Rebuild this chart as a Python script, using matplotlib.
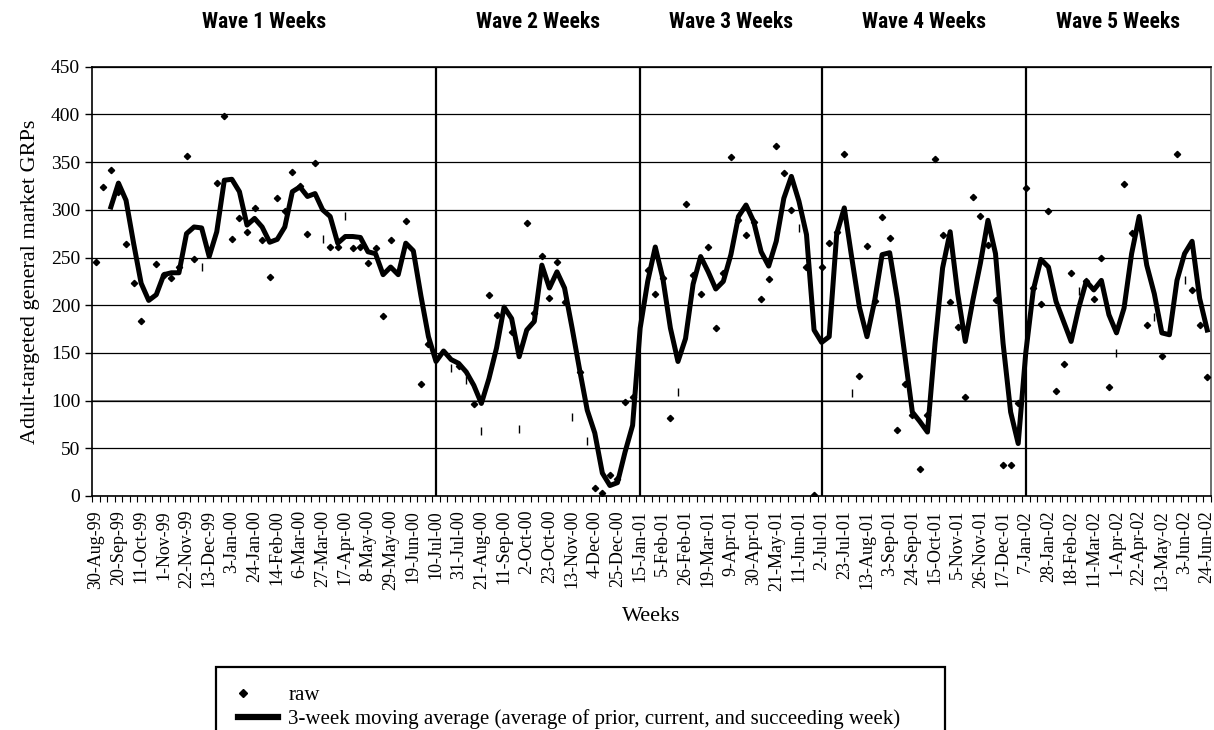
import numpy as np
import matplotlib.pyplot as plt
from matplotlib.patches import Rectangle
from matplotlib.lines import Line2D
from matplotlib.legend_handler import HandlerLine2D
from matplotlib import transforms

# ---------- fontes ----------
serif = "Liberation Serif"
fonte_ondas = {"family": ["Liberation Sans Narrow", "Roboto Condensed", "Arial Narrow", "Liberation Sans"],
               "size": 15.5, "weight": "bold", "stretch": "condensed"}

# ---------- dados ----------
# rótulos do eixo x (uma a cada 3 semanas)
rotulos = ['30-Aug-99', '20-Sep-99', '11-Oct-99', '1-Nov-99', '22-Nov-99', '13-Dec-99',
           '3-Jan-00', '24-Jan-00', '14-Feb-00', '6-Mar-00', '27-Mar-00', '17-Apr-00',
           '8-May-00', '29-May-00', '19-Jun-00', '10-Jul-00', '31-Jul-00', '21-Aug-00',
           '11-Sep-00', '2-Oct-00', '23-Oct-00', '13-Nov-00', '4-Dec-00', '25-Dec-00',
           '15-Jan-01', '5-Feb-01', '26-Feb-01', '19-Mar-01', '9-Apr-01', '30-Apr-01',
           '21-May-01', '11-Jun-01', '2-Jul-01', '23-Jul-01', '13-Aug-01', '3-Sep-01',
           '24-Sep-01', '15-Oct-01', '5-Nov-01', '26-Nov-01', '17-Dec-01', '7-Jan-02',
           '28-Jan-02', '18-Feb-02', '11-Mar-02', '1-Apr-02', '22-Apr-02', '13-May-02',
           '3-Jun-02', '24-Jun-02']

ondas = ['Wave 1 Weeks', 'Wave 2 Weeks', 'Wave 3 Weeks', 'Wave 4 Weeks', 'Wave 5 Weeks']
inicio_ondas = ['10-Jul-00', '15-Jan-01', '2-Jul-01', '7-Jan-02']

# GRPs semanais (None = marcador não visível)
raw = [245, 324, 342, 319, 264, 223, 183, None, 243, 232,
       229, 240, 356, 248, None, None, 328, 398, 269, 291,
       277, 302, 268, 230, 312, 299, 340, 325, 275, 349,
       None, 261, 261, None, 260, 261, 244, 260, 189, 268,
       None, 288, None, 117, 159, None, None, None, 136, None,
       96, None, 211, 190, None, 172, None, 286, 192, 252,
       208, 245, 203, None, 130, None, 8, 3, 22, 18,
       99, 104, None, 237, 212, 228, 82, None, 306, 232,
       212, 261, 176, 234, 355, 289, 274, 287, 207, 227,
       367, 339, 300, None, 240, 1, 240, 265, 277, 359,
       None, 126, 262, 204, 292, 270, 69, 117, 85, 28,
       85, 353, 274, 203, 177, 104, 313, 293, 263, 205,
       32, 32, 98, 323, 218, 201, 299, 110, 138, 234,
       None, 225, 206, 249, 114, None, 327, 276, None, 179,
       None, 147, None, 358, None, 216, 179, 125]

# pontos que aparecem só como um traço fino
semanas_traco = [14, 30, 33, 47, 49, 51, 56, 63, 65, 77, 93, 100, 130, 135, 140, 144]
valores_traco = [240, 269, 293, 134, 122, 68, 70, 83, 58, 109, 281, 108, 215, 150, 188, 226]

# média móvel de 3 semanas
media = [None, None, 303, 328, 310, 265, 223, 205, 211, 232,
         234, 234, 275, 282, 281, 251, 277, 331, 332, 319,
         284, 291, 282, 266, 269, 282, 319, 324, 314, 317,
         300, 293, 265, 272, 272, 271, 256, 254, 232, 240,
         232, 265, 257, 210, 167, 141, 152, 143, 139, 130,
         116, 97, 123, 155, 198, 186, 146, 174, 183, 242,
         218, 235, 218, 176, 132, 90, 66, 24, 11, 14,
         46, 74, 176, 225, 261, 228, 176, 141, 165, 222,
         251, 235, 217, 225, 253, 293, 305, 288, 256, 241,
         267, 312, 335, 309, 274, 174, 161, 167, 275, 302,
         249, 198, 167, 204, 253, 255, 207, 148, 88, 78,
         67, 160, 239, 277, 212, 162, 205, 244, 289, 254,
         160, 88, 55, 150, 216, 248, 240, 204, 183, 162,
         197, 225, 216, 226, 190, 171, 197, 254, 293, 242,
         212, 171, 169, 226, 254, 267, 207, 174]


# marcador da legenda encostado à esquerda (com numpoints=1 o marcador fica no meio de xdata)
class HandlerEsquerda(HandlerLine2D):
    def get_xdata(self, legend, xdescent, ydescent, width, height, fontsize):
        xdata = np.array([-xdescent, -xdescent + 0.24 * width])
        return xdata, xdata[:1]


# ---------- figura ----------
raw = np.array(raw, dtype=float)
media = np.array(media, dtype=float)
semanas = np.arange(len(raw))
pos_rotulos = np.arange(len(rotulos)) * 3

fig = plt.figure(figsize=(12.14, 7.30), dpi=100)
ax = fig.add_axes([92 / 1214, 1 - 496 / 730, (1211 - 92) / 1214, 429.3 / 730])

ax.plot(semanas, media, color='black', lw=3.6, solid_joinstyle='round', zorder=3)
ax.plot(semanas, raw, ls='none', marker='D', ms=3.2, color='black', zorder=4)
ax.plot(semanas_traco, valores_traco, ls='none', marker='|', ms=6, mew=1, color='black', zorder=4)

# linhas das ondas
limites = [-0.5]
for r in inicio_ondas:
    p = pos_rotulos[rotulos.index(r)]
    ax.axvline(p, color='black', lw=1.6, zorder=2)
    limites.append(p)
limites.append(len(raw) - 0.5)

trans = transforms.blended_transform_factory(ax.transData, ax.transAxes)
for i, nome in enumerate(ondas):
    ax.text((limites[i] + limites[i + 1]) / 2, 1.103, nome, transform=trans,
            ha='center', va='center', fontdict=fonte_ondas)

ax.set_xlim(-0.5, len(raw) - 0.5)
ax.set_ylim(0, 450)
ax.set_yticks(np.arange(0, 451, 50))
ax.set_xticks(pos_rotulos)
ax.set_xticklabels(rotulos, rotation=90, fontsize=13, family=serif)
ax.set_xticks(np.arange(-0.5, len(raw), 1), minor=True)
ax.tick_params(axis='x', which='major', length=0, pad=10)
ax.tick_params(axis='x', which='minor', length=4, width=0.8, direction='out')
ax.tick_params(axis='y', length=5, width=1, labelsize=14, direction='out')
for t in ax.get_yticklabels():
    t.set_family(serif)

ax.grid(axis='y', color='black', lw=0.9, zorder=1)
ax.axhline(100, color='#808080', lw=1.4, zorder=1)
for s in ax.spines.values():
    s.set_linewidth(1.2)
ax.spines['right'].set_color('#555555')

ax.set_ylabel('Adult-targeted general market GRPs', fontsize=16, family=serif, labelpad=8)
ax.set_xlabel('Weeks', fontsize=16, family=serif, labelpad=12)

# ---------- legenda ----------
fig.add_artist(Rectangle((215.7 / 1214, -0.05), (945 - 215.7) / 1214, 0.05 + 1 - 667 / 730,
                         transform=fig.transFigure, fill=False, lw=1.6, ec='black', clip_on=False))
h_raw = Line2D([], [], ls='none', marker='D', ms=4, color='black')
h_media = Line2D([], [], color='black', lw=4.5)
fig.legend([h_raw, h_media],
           ['raw', '3-week moving average (average of prior, current, and succeeding week)'],
           handler_map={h_raw: HandlerEsquerda(numpoints=1)},
           loc='upper left', bbox_to_anchor=(228 / 1214, 1 - 675 / 730), frameon=False,
           prop={'family': serif, 'size': 15}, borderpad=0, handlelength=1.9,
           handletextpad=0.5, labelspacing=0.2)

plt.savefig('out.png', dpi=100)
